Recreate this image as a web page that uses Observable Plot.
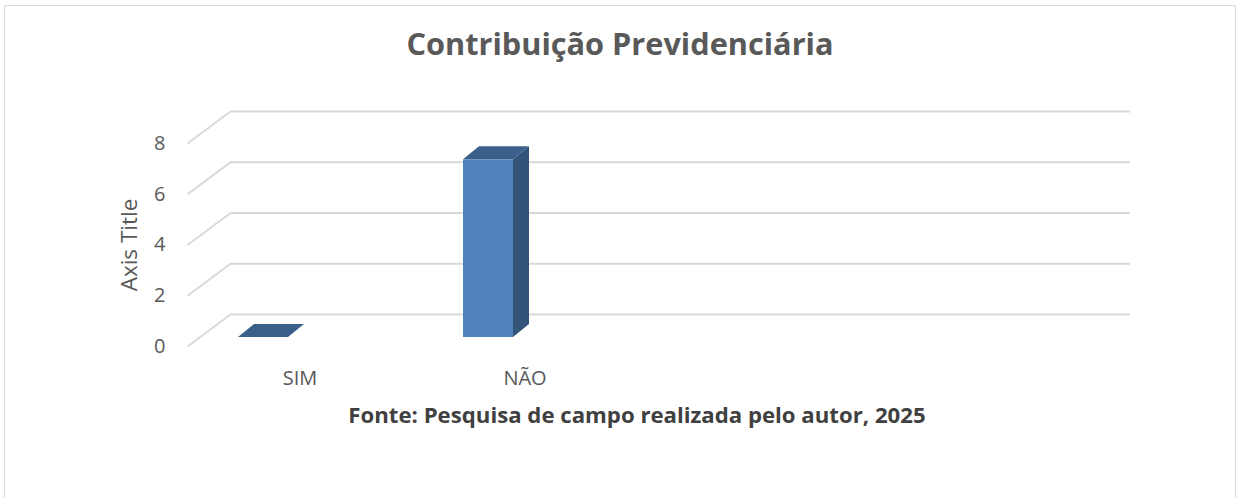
<!DOCTYPE html>
<html>
<head>
<meta charset="utf-8">
<script src="https://cdn.jsdelivr.net/npm/d3@7"></script>
<script src="https://cdn.jsdelivr.net/npm/@observablehq/plot@0.6"></script>
<style>
  html, body { margin: 0; padding: 0; background: #fff; }
  #wrap { position: relative; width: 1240px; height: 498px; overflow: hidden; font-family: "Open Sans", sans-serif; }
  #border { position: absolute; left: 4px; top: 5px; width: 1232px; height: 500px; border: 1.5px solid #d9d9d9; box-sizing: border-box; }
  #title { position: absolute; left: 0; top: 28px; width: 1240px; text-align: center; font: 700 30.7px/1 "Open Sans", sans-serif; color: #595959; white-space: nowrap; }
  #caption { position: absolute; left: 637px; top: 404px; transform: translateX(-50%); font: 700 22.2px/1 "Open Sans", sans-serif; color: #404040; white-space: nowrap; }
  #ytitle { position: absolute; left: 129px; top: 245px; transform: translate(-50%, -50%) rotate(-90deg); font: 400 22.5px/1 "Open Sans", sans-serif; color: #595959; white-space: nowrap; }
  #chart { position: absolute; left: 0; top: 0; }
</style>
</head>
<body>
<div id="wrap">
  <div id="border"></div>
  <div id="chart"></div>
  <div id="title"></div>
  <div id="ytitle"></div>
  <div id="caption"></div>
</div>
<script>
// ---- data ----
const titleText = "Contribuição Previdenciária";
const captionText = "Fonte: Pesquisa de campo realizada pelo autor, 2025";
const yAxisTitle = "Axis Title";
const categories = ["SIM", "NÃO", "", ""];
const values = [0, 7, null, null];
const yTicks = [0, 2, 4, 6, 8];

// ---- 3D layout (styling, in scale units) ----
const PX_X = 225, PX_Y = 25.4;           // pixels per unit on the front plane
const wallDX = 43 / PX_X, wallDY = 32 / PX_Y;   // back-wall depth offset
const barStart = 51 / PX_X, barW = 50 / PX_X;   // bar position inside its category
const barBase = 9 / PX_Y;                         // bar front sits behind front edge
const barDX = 16 / PX_X, barDY = 13 / PX_Y;      // bar depth
const nCat = categories.length;

const bars = categories.map((c, i) => ({cat: c || ("blank" + i), i, v: values[i]}))
  .filter(d => d.v != null);

const fronts = bars.map(d => ({cat: d.cat, x1: d.i + barStart, x2: d.i + barStart + barW, y1: barBase, y2: barBase + d.v}));
const tops = bars.flatMap(d => [
  {cat: d.cat, y: barBase + d.v, x1: d.i + barStart, x2: d.i + barStart + barW},
  {cat: d.cat, y: barBase + d.v + barDY, x1: d.i + barStart + barDX, x2: d.i + barStart + barW + barDX}
]);
const sides = bars.flatMap(d => [
  {cat: d.cat, x: d.i + barStart + barW, y1: barBase, y2: barBase + d.v},
  {cat: d.cat, x: d.i + barStart + barW + barDX, y1: barBase + barDY, y2: barBase + d.v + barDY}
]);
const catLabels = categories.map((c, i) => ({x: i + 0.5, text: c})).filter(d => d.text);

const grid = "#d9d9d9";
const chart = Plot.plot({
  width: 1240,
  height: 498,
  marginLeft: 187,
  marginRight: 110,
  marginTop: 111,
  marginBottom: 152,
  style: {background: "transparent", fontFamily: "Open Sans, sans-serif"},
  x: {domain: [0, nCat + wallDX], axis: null},
  y: {domain: [0, 8 + wallDY], axis: null},
  marks: [
    // back wall gridlines
    Plot.ruleY(yTicks, {y: d => d + wallDY, x1: wallDX, x2: nCat + wallDX, stroke: grid, strokeWidth: 2}),
    // side-wall diagonals
    Plot.link(yTicks, {x1: 0, y1: d => d, x2: wallDX, y2: d => d + wallDY, stroke: grid, strokeWidth: 2}),
    // tick labels
    Plot.text(yTicks, {x: 0, y: d => d, text: d => String(d), textAnchor: "end", dx: -22, fontSize: 20, fill: "#595959"}),
    // category labels
    Plot.text(catLabels, {x: "x", y: 0, text: "text", dy: 32, fontSize: 20, fill: "#595959"}),
    // bars
    Plot.areaY(sides, {x: "x", y1: "y1", y2: "y2", z: "cat", fill: "#335479"}),
    Plot.rect(fronts, {x1: "x1", x2: "x2", y1: "y1", y2: "y2", fill: "#4f81bd"}),
    Plot.areaX(tops, {y: "y", x1: "x1", x2: "x2", z: "cat", fill: "#3a5f8b"})
  ]
});
document.getElementById("chart").appendChild(chart);
document.getElementById("title").textContent = titleText;
document.getElementById("caption").textContent = captionText;
document.getElementById("ytitle").textContent = yAxisTitle;
</script>
</body>
</html>
